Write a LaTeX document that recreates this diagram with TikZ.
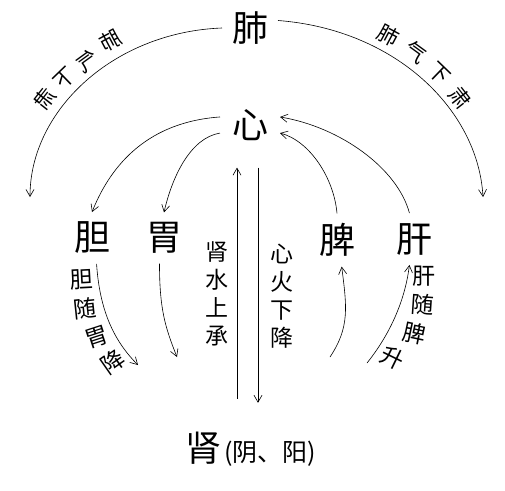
\documentclass[tikz,border=0pt]{standalone}
\usepackage{fontspec}
\setmainfont{Noto Sans CJK SC}
\usetikzlibrary{arrows.meta}

\begin{document}
\begin{tikzpicture}[x=1pt, y=-1pt,
    >={Straight Barb[length=7pt,width=8pt]},
    line width=0.6pt,
    organ/.style={font=\fontsize{36}{36}\selectfont, inner sep=1pt, outer sep=9pt},
    lbl/.style={font=\fontsize{23}{23}\selectfont, inner sep=0pt},
    arclbl/.style={font=\fontsize{21}{21}\selectfont, inner sep=0pt},
    column/.style={font=\fontsize{23}{28}\selectfont, align=center, inner sep=0pt}]

  \useasboundingbox (0,0) rectangle (505,490);

  % Organs
  \node[organ] (fei) at (250,28) {肺};
  \node[organ, outer sep=11pt] (xin) at (250,125) {心};
  \node[organ] (dan) at (92,238) {胆};
  \node[organ] (wei) at (164,238) {胃};
  \node[organ] (pi) at (337,240) {脾};
  \node[organ] (gan) at (414,239) {肝};
  \node[organ, outer sep=0pt] (shen) at (203,448) {肾};
  \node[anchor=base west, font=\fontsize{25}{25}\selectfont, inner sep=0pt] (yinyang)
      at ([xshift=2pt]shen.base east) {(阴、阳)};

  % Free ends of the arrows
  \coordinate (lend) at (30,197);
  \coordinate (rend) at (483,197);
  \coordinate (danend) at (138,365);
  \coordinate (weiend) at (177,357);
  \coordinate (pistart) at (330,357);
  \coordinate (ganstart) at (367,363);

  % Lung qi descends to both sides
  \draw[->] (fei.west) .. controls +(-108,4) and +(0,-87) .. (lend);
  \draw[->] (fei.15) .. controls +(118,9) and +(-5,-87) .. (rend);

  % Heart down to gallbladder and stomach
  \draw[->] (xin.165) .. controls +(-70,5) and +(20,-50) .. (dan.north);
  \draw[->] (xin.195) .. controls +(-30,5) and +(8,-35) .. (wei.north);

  % Liver and spleen up to heart
  \draw[->] (gan.100) .. controls +(-12,-45) and +(60,10) .. (xin.15);
  \draw[->] (pi.north) .. controls +(-3,-35) and +(30,8) .. (xin.345);

  % Descending and rising below the organs
  \draw[->] (dan.-80) .. controls +(3,45) and +(-25,-25) .. (danend);
  \draw[->] (wei.-100) .. controls +(0,45) and +(-12,-30) .. (weiend);
  \draw[->] (pistart) .. controls +(20,-30) and +(5,40) .. (pi.-80);
  \draw[->] (ganstart) .. controls +(20,-25) and +(-5,40) .. (gan.-100);

  % Kidney water rises, heart fire descends
  \draw[->] ([xshift=34pt,yshift=32pt]shen.north) -- ([xshift=-13pt,yshift=-15pt]xin.south);
  \draw[->] ([xshift=8pt,yshift=-15pt]xin.south) -- ([xshift=55pt,yshift=28pt]shen.north);
  \node[column] (shenshui) at (217,294) {肾\\水\\上\\承};
  \node[column] (xinhuo) at (282,296) {心\\火\\下\\降};

  % Labels on the lung arcs (left one is mirrored)
  \node[arclbl, rotate=28, xscale=-1] (lf1) at (111,40) {肺};
  \node[arclbl, rotate=36, xscale=-1] (lf2) at (87,61) {气};
  \node[arclbl, rotate=44, xscale=-1] (lf3) at (65,79) {下};
  \node[arclbl, rotate=52, xscale=-1] (lf4) at (45,99) {肃};
  \node[arclbl, rotate=-28] (rf1) at (388,35) {肺};
  \node[arclbl, rotate=-36] (rf2) at (416,52) {气};
  \node[arclbl, rotate=-44] (rf3) at (439,74) {下};
  \node[arclbl, rotate=-52] (rf4) at (460,98) {肃};

  % Gallbladder follows stomach down
  \node[lbl, rotate=3] (dl1) at (82,280) {胆};
  \node[lbl, rotate=6] (dl2) at (85,309) {随};
  \node[lbl, rotate=18] (dl3) at (97,337) {胃};
  \node[lbl, rotate=35] (dl4) at (113,362) {降};

  % Liver follows spleen up
  \node[lbl] (gl1) at (424,276) {肝};
  \node[lbl, rotate=-4] (gl2) at (423,305) {随};
  \node[lbl, rotate=-12] (gl3) at (415,333) {脾};
  \node[lbl, rotate=-26] (gl4) at (393,358) {升};

\end{tikzpicture}
\end{document}
